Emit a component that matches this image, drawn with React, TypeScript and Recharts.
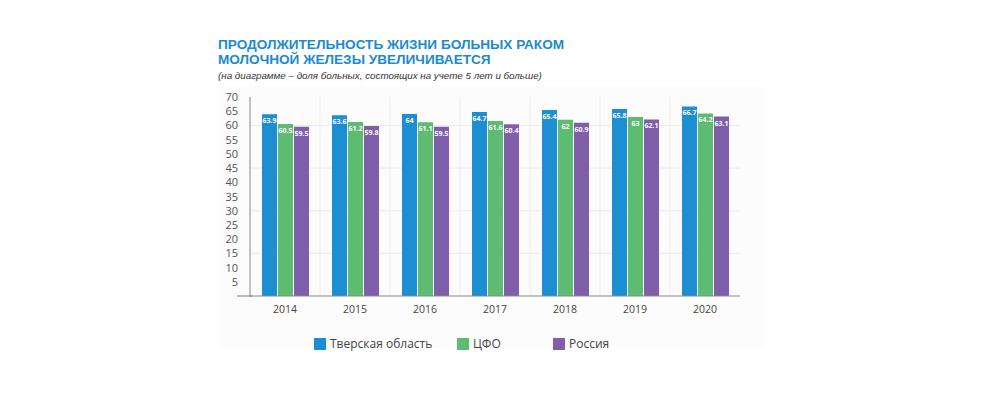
import React from "react";
import {
  BarChart,
  Bar,
  XAxis,
  YAxis,
  CartesianGrid,
  LabelList,
} from "recharts";

const YEARS = ["2014", "2015", "2016", "2017", "2018", "2019", "2020"];
const TVER = [63.9, 63.6, 64, 64.7, 65.4, 65.8, 66.7];
const CFO = [60.5, 61.2, 61.1, 61.6, 62, 63, 64.2];
const RUSSIA = [59.5, 59.8, 59.5, 60.4, 60.9, 62.1, 63.1];
const Y_TICKS = [0, 5, 10, 15, 20, 25, 30, 35, 40, 45, 50, 55, 60, 65, 70];
const GRID_VALUES = [15, 30, 45, 60];
const Y_MAX = 70;

const SERIES = [
  { key: "tver", name: "Тверская область", color: "#1b8fd2" },
  { key: "cfo", name: "ЦФО", color: "#5dbb72" },
  { key: "russia", name: "Россия", color: "#7f5faa" },
];

const data = YEARS.map((year, i) => ({
  year,
  tver: TVER[i],
  cfo: CFO[i],
  russia: RUSSIA[i],
}));

const FONT = "'Open Sans', 'Noto Sans', sans-serif";

function YTick(props: any) {
  const { x, y, payload } = props;
  if (payload.value === 0) {
    return <line x1={x - 5} x2={x + 10} y1={y} y2={y} stroke="#777" strokeWidth={1} />;
  }
  return (
    <text x={x - 4} y={y} dy={4} textAnchor="end" fontSize={11} fill="#555" fontFamily={FONT}>
      {payload.value}
    </text>
  );
}

export default function App() {
  return (
    <div style={{ position: "absolute", left: 0, top: 0, width: 1000, height: 394, background: "#fff" }}>
      <div
        style={{
          position: "absolute",
          left: 220,
          top: 86,
          width: 544,
          height: 262,
          background: "#fcfcfc",
        }}
      />
      <div
        style={{
          position: "absolute",
          left: 218,
          top: 37,
          fontFamily: "'Liberation Sans', Arial, sans-serif",
          fontWeight: 700,
          fontSize: 13.6,
          lineHeight: "15px",
          color: "#1b8ad0",
        }}
      >
        ПРОДОЛЖИТЕЛЬНОСТЬ ЖИЗНИ БОЛЬНЫХ РАКОМ
        <br />
        МОЛОЧНОЙ ЖЕЛЕЗЫ УВЕЛИЧИВАЕТСЯ
      </div>
      <div
        style={{
          position: "absolute",
          left: 218,
          top: 70,
          fontFamily: "'Liberation Sans', Arial, sans-serif",
          fontStyle: "italic",
          fontSize: 9.8,
          color: "#333",
        }}
      >
        (на диаграмме – доля больных, состоящих на учете 5 лет и больше)
      </div>
      <div style={{ position: "absolute", left: 0, top: 0 }}>
        <BarChart
          width={1000}
          height={394}
          data={data}
          margin={{ top: 97, right: 260, bottom: 78, left: 210 }}
          barSize={15}
          barGap={1}
        >
          <CartesianGrid
            stroke="#ececec"
            verticalCoordinatesGenerator={({ offset }: any) =>
              YEARS.slice(1).map((_, i) => offset.left + ((i + 1) * offset.width) / YEARS.length)
            }
            horizontalCoordinatesGenerator={({ yAxis, offset }: any) =>
              GRID_VALUES.map((v) =>
                yAxis && typeof yAxis.scale === "function"
                  ? yAxis.scale(v)
                  : offset.top + offset.height * (1 - v / Y_MAX)
              )
            }
          />
          <XAxis
            dataKey="year"
            height={20}
            axisLine={{ stroke: "#888" }}
            tickLine={false}
            tick={{ fontSize: 10.5, fill: "#444", fontFamily: FONT }}
            tickMargin={4}
          />
          <YAxis
            width={40}
            domain={[0, Y_MAX]}
            ticks={Y_TICKS}
            interval={0}
            axisLine={{ stroke: "#888" }}
            tickLine={false}
            tick={<YTick />}
          />
          {SERIES.map((s) => (
            <Bar key={s.key} dataKey={s.key} name={s.name} fill={s.color} isAnimationActive={false}>
              <LabelList
                dataKey={s.key}
                position="insideTop"
                offset={4}
                fill="#fff"
                fontSize={7}
                fontWeight={700}
                fontFamily={FONT}
              />
            </Bar>
          ))}
        </BarChart>
      </div>
      {SERIES.map((s, i) => (
        <div
          key={s.key}
          style={{
            position: "absolute",
            left: [314, 457, 553][i],
            top: 335,
            display: "flex",
            alignItems: "center",
            fontFamily: FONT,
            fontSize: 12,
            color: "#444",
          }}
        >
          <span style={{ display: "inline-block", width: 12, height: 12, background: s.color, marginRight: 4 }} />
          {s.name}
        </div>
      ))}
    </div>
  );
}
